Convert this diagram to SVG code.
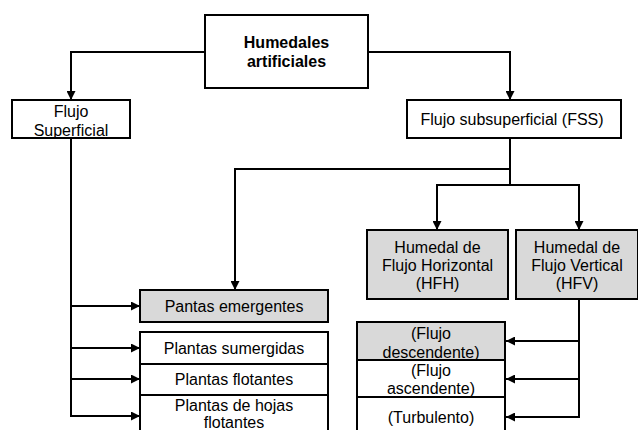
<svg xmlns="http://www.w3.org/2000/svg" width="638" height="430" viewBox="0 0 638 430">
<defs>
<marker id="ah" viewBox="0 0 10 10" refX="10" refY="5" markerWidth="9" markerHeight="9" markerUnits="userSpaceOnUse" orient="auto">
<path d="M0,0 L10,5 L0,10 z" fill="#000"/>
</marker>
<style>
.b{fill:#fff;stroke:#000;stroke-width:2}
.g{fill:#d9d9d9;stroke:#000;stroke-width:2}
.t{font-family:"Liberation Sans",Arial,sans-serif;font-size:16px;text-anchor:middle;fill:#000}
.tb{font-family:"Liberation Sans",Arial,sans-serif;font-size:16px;font-weight:bold;text-anchor:middle;fill:#000}
.c{fill:none;stroke:#000;stroke-width:2}
</style>
</defs>
<rect width="638" height="430" fill="#fff"/>
<g id="connectors">
<path class="c" d="M205,52 H71 V100" marker-end="url(#ah)"/>
<path class="c" d="M368,52 H510 V100" marker-end="url(#ah)"/>
<path class="c" d="M510,138 V185"/>
<path class="c" d="M510,169 H235 V290" marker-end="url(#ah)"/>
<path class="c" d="M510,185 H437 V230" marker-end="url(#ah)"/>
<path class="c" d="M510,185 H579 V230" marker-end="url(#ah)"/>
<path class="c" d="M71,138 V416"/>
<path class="c" d="M71,306 H140" marker-end="url(#ah)"/>
<path class="c" d="M71,348 H140" marker-end="url(#ah)"/>
<path class="c" d="M71,379 H140" marker-end="url(#ah)"/>
<path class="c" d="M70,416 H140" marker-end="url(#ah)"/>
<path class="c" d="M579,299 V417"/>
<path class="c" d="M579,341 H506" marker-end="url(#ah)"/>
<path class="c" d="M579,379 H506" marker-end="url(#ah)"/>
<path class="c" d="M580,417 H506" marker-end="url(#ah)"/>
</g>
<g id="humedales">
<rect class="b" x="205" y="15" width="163" height="73"/>
<text class="tb" x="286.5" y="48">Humedales</text>
<text class="tb" x="286.5" y="67">artificiales</text>
</g>
<g id="flujo-superficial">
<rect class="b" x="12" y="100" width="118" height="38"/>
<text class="t" x="71" y="117">Flujo</text>
<text class="t" x="71" y="136">Superficial</text>
</g>
<g id="fss">
<rect class="b" x="407" y="100" width="214" height="38"/>
<text class="t" x="512" y="125">Flujo subsuperficial (FSS)</text>
</g>
<g id="hfh">
<rect class="g" x="367" y="230" width="141" height="69"/>
<text class="t" x="437.5" y="253">Humedal de</text>
<text class="t" x="437.5" y="271">Flujo Horizontal</text>
<text class="t" x="437.5" y="289">(HFH)</text>
</g>
<g id="hfv">
<rect class="g" x="516" y="230" width="122" height="69"/>
<text class="t" x="577" y="253">Humedal de</text>
<text class="t" x="577" y="271">Flujo Vertical</text>
<text class="t" x="577" y="289">(HFV)</text>
</g>
<g id="pantas-emergentes">
<rect class="g" x="140" y="290" width="188" height="32"/>
<text class="t" x="234" y="312">Pantas emergentes</text>
</g>
<g id="plantas-sumergidas">
<rect class="b" x="140" y="332" width="188" height="32"/>
<text class="t" x="234" y="354">Plantas sumergidas</text>
</g>
<g id="plantas-flotantes">
<rect class="b" x="140" y="364" width="188" height="31"/>
<text class="t" x="234" y="385">Plantas flotantes</text>
</g>
<g id="plantas-hojas">
<rect class="b" x="140" y="395" width="188" height="45"/>
<text class="t" x="234" y="411">Plantas de hojas</text>
<text class="t" x="234" y="428">flotantes</text>
</g>
<g id="descendente">
<rect class="g" x="357" y="322" width="148" height="38"/>
<text class="t" x="431" y="339">(Flujo</text>
<text class="t" x="431" y="358">descendente)</text>
</g>
<g id="ascendente">
<rect class="b" x="357" y="360" width="148" height="37"/>
<text class="t" x="431" y="376">(Flujo</text>
<text class="t" x="431" y="394">ascendente)</text>
</g>
<g id="turbulento">
<rect class="b" x="357" y="397" width="148" height="43"/>
<text class="t" x="431" y="423">(Turbulento)</text>
</g>
</svg>
